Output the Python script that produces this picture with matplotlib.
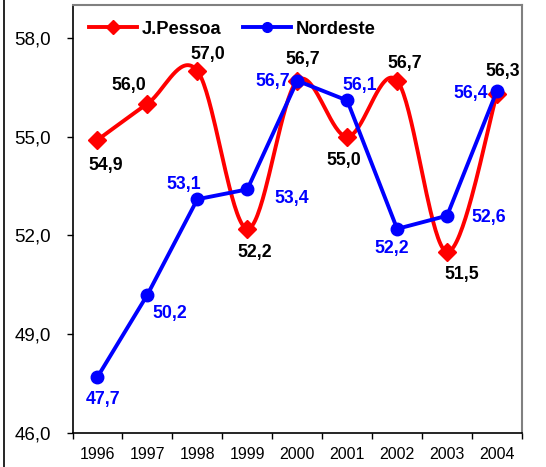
import numpy as np
import matplotlib
matplotlib.use("Agg")
import matplotlib.pyplot as plt
from matplotlib.lines import Line2D

plt.rcParams['font.family'] = ['Liberation Sans', 'DejaVu Sans']

years = ['1996', '1997', '1998', '1999', '2000', '2001', '2002', '2003', '2004']
jpessoa = [54.9, 56.0, 57.0, 52.2, 56.7, 55.0, 56.7, 51.5, 56.3]
nordeste = [47.7, 50.2, 53.1, 53.4, 56.7, 56.1, 52.2, 52.6, 56.4]
yticks = [46.0, 49.0, 52.0, 55.0, 58.0]

# label offsets in pixels (dx, dy with dy positive downward)
jp_off = [(8, 26), (-19, -18), (10, -16), (7, 24), (5, -21), (-3, 24), (8, -17), (15, 23), (6, -22)]
nd_off = [(6, 22), (22, 19), (-14, -15), (44, 9), (-25, 1), (13, -15), (-5, 20), (42, 2), (-26, 3)]

RED = '#ff0000'
BLUE = '#0000ff'


def smooth(xs, ys, n=40):
    xs = np.asarray(xs, float)
    ys = np.asarray(ys, float)
    P = np.column_stack([xs, ys])
    out = []
    m = len(P)
    for i in range(m - 1):
        p0 = P[i - 1] if i > 0 else P[i]
        p1 = P[i]
        p2 = P[i + 1]
        p3 = P[i + 2] if i + 2 < m else P[i + 1]
        c1 = p1 + (p2 - p0) / 6.0
        c2 = p2 - (p3 - p1) / 6.0
        t = np.linspace(0, 1, n)[:, None]
        seg = ((1 - t) ** 3) * p1 + 3 * ((1 - t) ** 2) * t * c1 + 3 * (1 - t) * t ** 2 * c2 + t ** 3 * p2
        out.append(seg if i == 0 else seg[1:])
    out = np.vstack(out)
    return out[:, 0], out[:, 1]


fig = plt.figure(figsize=(5.46, 4.67), dpi=100)
ax = fig.add_axes([72.5 / 546, 1 - 433 / 467, 449.5 / 546, 428 / 467])

x = np.arange(len(years))
sx, sy = smooth(x, jpessoa)
ax.plot(sx, sy, color=RED, lw=2.8, solid_capstyle='round', zorder=3)
ax.plot(x, jpessoa, linestyle='none', marker='D', color=RED, markersize=9, zorder=4)
ax.plot(x, nordeste, color=BLUE, lw=2.8, marker='o', markersize=9, zorder=5)

for i, v in enumerate(jpessoa):
    dx, dy = jp_off[i]
    ax.annotate(f"{v:.1f}".replace('.', ','), (x[i], v), xytext=(dx * 0.72, -dy * 0.72),
                textcoords='offset points', ha='center', va='center', fontsize=12.8,
                fontweight='bold', color='black', zorder=6)
for i, v in enumerate(nordeste):
    dx, dy = nd_off[i]
    ax.annotate(f"{v:.1f}".replace('.', ','), (x[i], v), xytext=(dx * 0.72, -dy * 0.72),
                textcoords='offset points', ha='center', va='center', fontsize=12.8,
                fontweight='bold', color=BLUE, zorder=6)

ax.set_xlim(-0.5, len(years) - 0.5)
ax.set_ylim(46, 59)
ax.set_yticks(yticks)
ax.set_yticklabels([f"{t:.1f}".replace('.', ',') for t in yticks], fontsize=13.5)
ax.set_xticks(x)
ax.set_xticklabels(years, fontsize=11.5)
ax.set_xticks(np.arange(-0.5, len(years)), minor=True)
ax.tick_params(axis='x', which='major', length=0, pad=10)
ax.tick_params(axis='x', which='minor', length=4, width=1, direction='out')
ax.tick_params(axis='y', length=4.3, width=1, direction='out', pad=11)

for s in ['left', 'bottom']:
    ax.spines[s].set_color('black')
    ax.spines[s].set_linewidth(1.2)
for s in ['top', 'right']:
    ax.spines[s].set_color('#808080')
    ax.spines[s].set_linewidth(1.5)

handles = [Line2D([], [], color=RED, lw=2.8, marker='D', markersize=7),
           Line2D([], [], color=BLUE, lw=2.8, marker='o', markersize=7)]
leg = ax.legend(handles, ['J.Pessoa', 'Nordeste'], loc='center left', ncol=2, frameon=False,
                prop={'weight': 'bold', 'size': 13.2}, handlelength=2.6, columnspacing=1.2,
                handletextpad=0.27, borderpad=0, borderaxespad=0,
                bbox_to_anchor=(16.5 / 449.5, 1 - 24 / 428))

fig.add_artist(Line2D([3.5 / 546, 3.5 / 546], [0, 1], color='black', lw=1.2, transform=fig.transFigure))

fig.savefig('out.png', dpi=100, facecolor='white')
